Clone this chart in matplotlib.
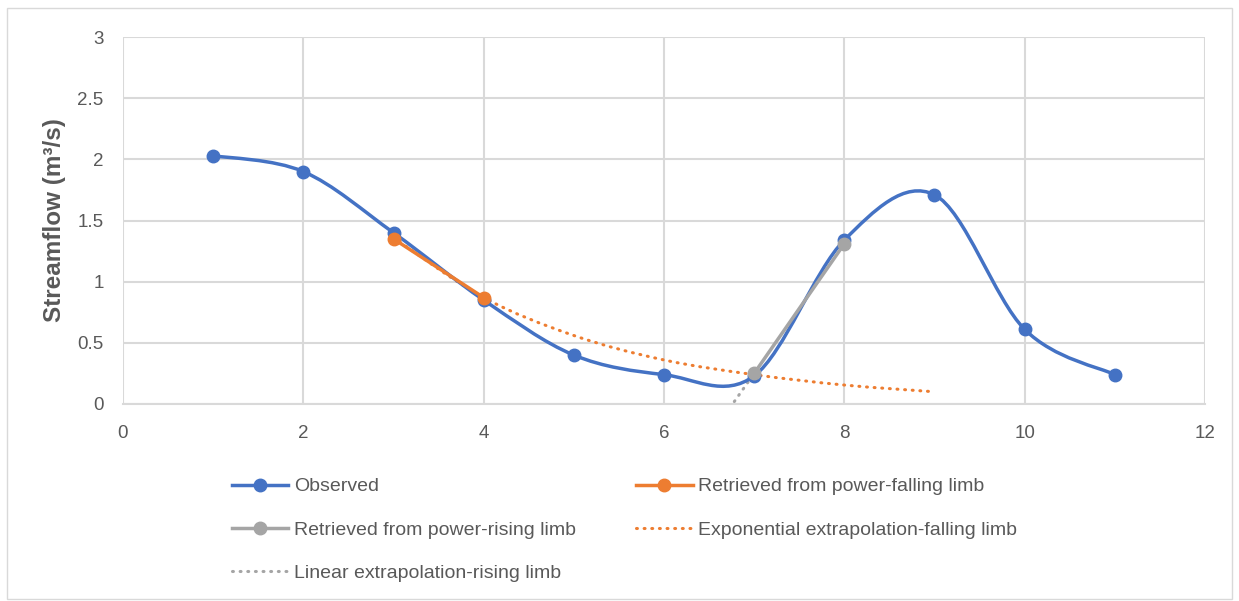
import numpy as np
import matplotlib.pyplot as plt
from matplotlib.path import Path
from matplotlib.patches import PathPatch, Rectangle
from matplotlib.lines import Line2D

plt.rcParams['font.family'] = ['Liberation Sans', 'DejaVu Sans']

# data
obs_x = [1, 2, 3, 4, 5, 6, 7, 8, 9, 10, 11]
obs_y = [2.03, 1.90, 1.40, 0.85, 0.40, 0.24, 0.23, 1.34, 1.71, 0.61, 0.24]

fall_x = [3, 4]
fall_y = [1.35, 0.87]

rise_x = [7, 8]
rise_y = [0.25, 1.31]

exp_x = [3, 4, 5, 6, 7, 8, 9]
exp_y = [1.36, 0.87, 0.56, 0.36, 0.24, 0.155, 0.10]

lin_x = [6.78, 7]
lin_y = [0.02, 0.25]

BLUE = '#4472C4'
ORANGE = '#ED7D31'
GRAY = '#A5A5A5'
TXT = '#595959'
GRID = '#D9D9D9'


# Excel-like smoothed line: Catmull-Rom segments as cubic beziers
def smooth_path(xs, ys):
    p = np.column_stack([xs, ys]).astype(float)
    n = len(p)
    verts = [p[0]]
    codes = [Path.MOVETO]
    for i in range(n - 1):
        p0 = p[i - 1] if i > 0 else p[i]
        p3 = p[i + 2] if i + 2 < n else p[i + 1]
        c1 = p[i] + (p[i + 1] - p0) / 6
        c2 = p[i + 1] - (p3 - p[i]) / 6
        verts += [c1, c2, p[i + 1]]
        codes += [Path.CURVE4] * 3
    return Path(verts, codes)


fig = plt.figure(figsize=(12.39, 6.01), dpi=100)
fig.patches.append(Rectangle((0.006, 0.004), 0.988, 0.982, transform=fig.transFigure,
                             fill=False, edgecolor='#D9D9D9', linewidth=1))
ax = fig.add_axes([123 / 1239, 1 - 404 / 601, (1205 - 123) / 1239, (404 - 37) / 601])

ax.set_xlim(0, 12)
ax.set_ylim(0, 3)
ax.set_xticks(range(0, 13, 2))
ax.set_yticks([0, 0.5, 1, 1.5, 2, 2.5, 3])
ax.set_yticklabels(['0', '0.5', '1', '1.5', '2', '2.5', '3'])
ax.grid(True, color=GRID, linewidth=1.5)
ax.set_axisbelow(True)
for s in ['top', 'right', 'left']:
    ax.spines[s].set_visible(False)
ax.spines['bottom'].set_color(GRID)
ax.spines['bottom'].set_linewidth(1.5)
ax.tick_params(length=0, labelsize=13.5, colors=TXT)
ax.tick_params(axis='x', pad=15)
ax.tick_params(axis='y', pad=14)
ax.set_ylabel('Streamflow (m³/s)', fontsize=17.5, fontweight='bold', color=TXT, labelpad=8)

# exponential extrapolation (dotted)
ax.add_patch(PathPatch(smooth_path(exp_x, exp_y), fill=False, edgecolor=ORANGE,
                       linewidth=2.2, linestyle=(0, (0.3, 2.2)), capstyle='round', zorder=2))
# linear extrapolation (dotted)
ax.plot(lin_x, lin_y, color=GRAY, linewidth=2.2, linestyle=(0, (0.3, 2.2)),
        dash_capstyle='round', zorder=2)

# observed smooth line
ax.add_patch(PathPatch(smooth_path(obs_x, obs_y), fill=False, edgecolor=BLUE,
                       linewidth=2.5, capstyle='round', zorder=3))
ax.plot(obs_x, obs_y, 'o', color=BLUE, markersize=9, zorder=4)

# retrieved series
ax.plot(fall_x, fall_y, '-o', color=ORANGE, linewidth=2.5, markersize=9, zorder=5)
ax.plot(rise_x, rise_y, '-o', color=GRAY, linewidth=2.5, markersize=9, zorder=5)

handles = [
    Line2D([], [], color=BLUE, lw=2.5, marker='o', ms=9),
    Line2D([], [], color=GRAY, lw=2.5, marker='o', ms=9),
    Line2D([], [], color=GRAY, lw=2.2, ls=(0, (0.3, 2.2)), dash_capstyle='round'),
    Line2D([], [], color=ORANGE, lw=2.5, marker='o', ms=9),
    Line2D([], [], color=ORANGE, lw=2.2, ls=(0, (0.3, 2.2)), dash_capstyle='round'),
]
labels = ['Observed', 'Retrieved from power-rising limb', 'Linear extrapolation-rising limb',
          'Retrieved from power-falling limb', 'Exponential extrapolation-falling limb']
leg = fig.legend(handles, labels, ncol=2, loc='upper left', bbox_to_anchor=(224 / 1239, 1 - 470 / 601),
                 frameon=False, fontsize=14, handlelength=2.9, handletextpad=0.3,
                 columnspacing=3.1, labelspacing=1.32, labelcolor=TXT, borderaxespad=0)

fig.savefig('out.png', dpi=100)
